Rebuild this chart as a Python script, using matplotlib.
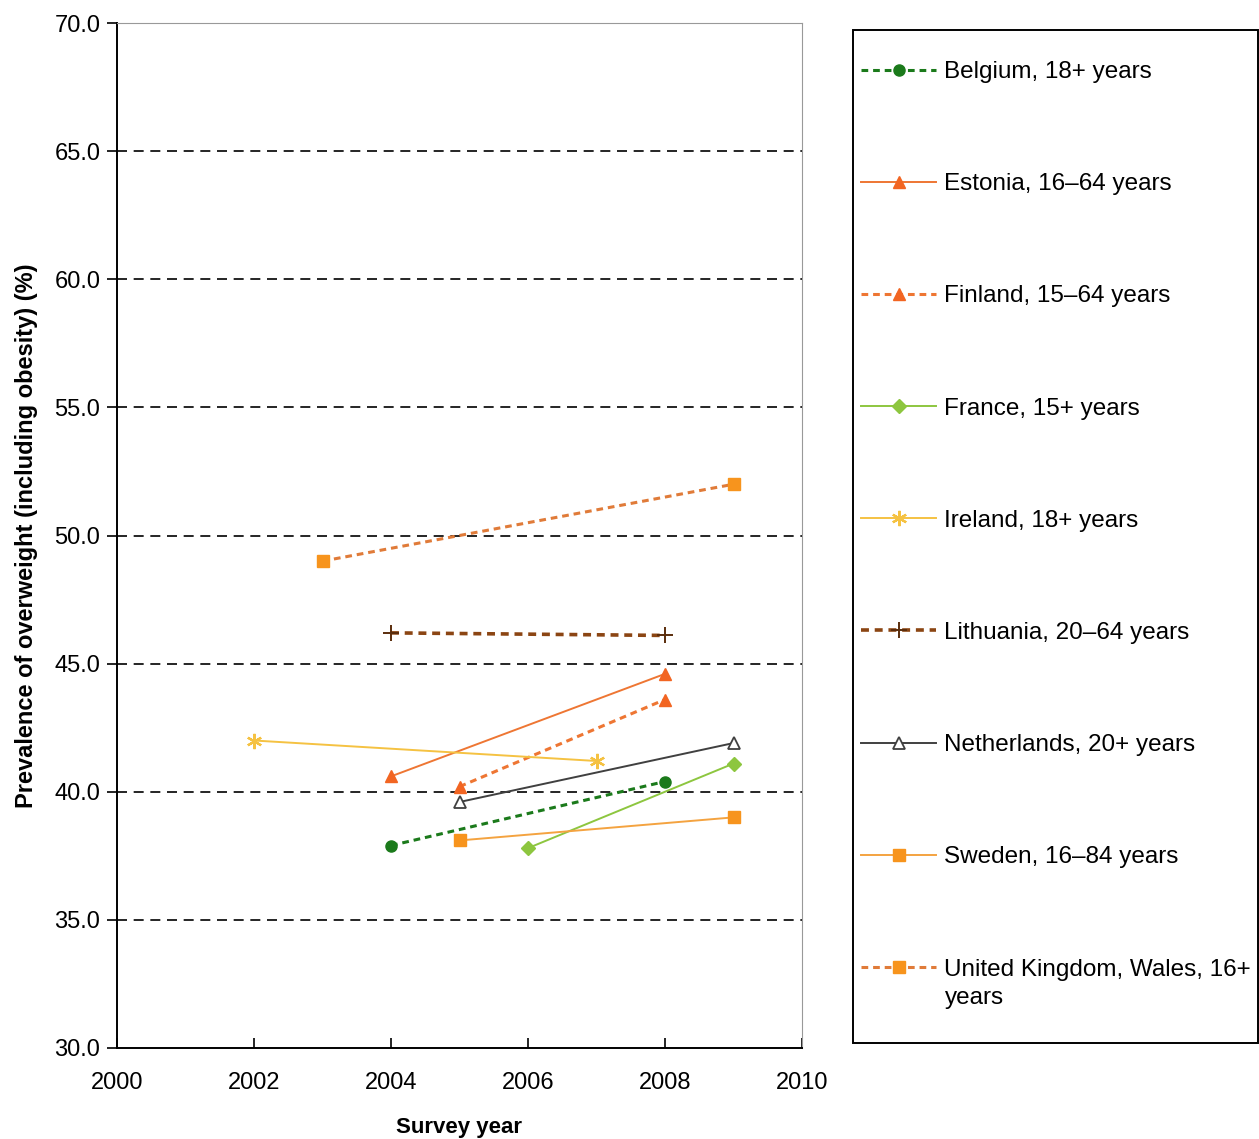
import matplotlib
matplotlib.use("Agg")
import matplotlib.pyplot as plt
from matplotlib.patches import Rectangle

plt.rcParams['font.family'] = ['Liberation Sans', 'DejaVu Sans']

# --- data ---
years_belgium = [2004, 2008]
vals_belgium = [37.9, 40.4]
years_estonia = [2004, 2008]
vals_estonia = [40.6, 44.6]
years_finland = [2005, 2008]
vals_finland = [40.2, 43.6]
years_france = [2006, 2009]
vals_france = [37.8, 41.1]
years_ireland = [2002, 2007]
vals_ireland = [42.0, 41.2]
years_lithuania = [2004, 2008]
vals_lithuania = [46.2, 46.1]
years_netherlands = [2005, 2009]
vals_netherlands = [39.6, 41.9]
years_sweden = [2005, 2009]
vals_sweden = [38.1, 39.0]
years_wales = [2003, 2009]
vals_wales = [49.0, 52.0]

labels = ['Belgium, 18+ years', 'Estonia, 16\u201364 years', 'Finland, 15\u201364 years',
          'France, 15+ years', 'Ireland, 18+ years', 'Lithuania, 20\u201364 years',
          'Netherlands, 20+ years', 'Sweden, 16\u201384 years',
          'United Kingdom, Wales, 16+']
label_wrap = 'years'   # second line of the last legend entry

fig = plt.figure(figsize=(12.59, 11.39), dpi=100)
ax = fig.add_axes([117/1259, 1-1048/1139, 685/1259, 1025/1139])

dash = (0, (2.2, 1.6))
h = []
h += ax.plot(years_belgium, vals_belgium, color='#1b7a1b', ls=dash, lw=2.2,
             marker='o', ms=8, mfc='#1b7a1b', mec='#1b7a1b')
h += ax.plot(years_estonia, vals_estonia, color='#ee7633', lw=1.4,
             marker='^', ms=9, mfc='#f26522', mec='#f26522')
h += ax.plot(years_finland, vals_finland, color='#ee7633', ls=dash, lw=2.2,
             marker='^', ms=9, mfc='#f26522', mec='#f26522')
h += ax.plot(years_france, vals_france, color='#8dc63f', lw=1.4,
             marker='D', ms=7, mfc='#8dc63f', mec='#8dc63f')
h += ax.plot(years_ireland, vals_ireland, color='#f5c242', lw=1.4,
             marker=(6, 2, 0), ms=11, mew=1.6, mec='#f5c242')
h += ax.plot(years_lithuania, vals_lithuania, color='#8b4513', ls=dash, lw=2.6,
             marker='+', ms=11, mew=1.4, mec='#5a2d0c')
h += ax.plot(years_netherlands, vals_netherlands, color='#404040', lw=1.4,
             marker='^', ms=8, mfc='white', mec='#404040', mew=1.3)
h += ax.plot(years_sweden, vals_sweden, color='#f4a340', lw=1.4,
             marker='s', ms=8, mfc='#f7941d', mec='#f7941d')
h += ax.plot(years_wales, vals_wales, color='#e07b39', ls=dash, lw=2.2,
             marker='s', ms=8, mfc='#f7941d', mec='#f7941d')

ax.set_xlim(2000, 2010)
ax.set_ylim(30, 70)
ax.set_xticks(range(2000, 2011, 2))
ax.set_yticks(range(30, 71, 5))
ax.set_yticklabels([f'{v:.1f}' for v in range(30, 71, 5)], fontsize=17)
ax.set_xticklabels([str(v) for v in range(2000, 2011, 2)], fontsize=17)
ax.tick_params(axis='y', direction='out', length=7, width=1.2, pad=5, colors='black')
ax.tick_params(axis='x', direction='in', length=7, width=1.2, pad=17)
for y in range(35, 70, 5):
    ax.axhline(y, color='black', lw=1.2, ls=(0, (6, 4)), zorder=0)

ax.spines['left'].set_linewidth(1.4)
ax.spines['bottom'].set_linewidth(1.4)
ax.spines['top'].set_color('#999999')
ax.spines['right'].set_color('#999999')

ax.set_xlabel('Survey year', fontsize=16, fontweight='bold', labelpad=17)
ax.set_ylabel('Prevalence of overweight (including obesity) (%)', fontsize=17,
              fontweight='bold')
ax.yaxis.set_label_coords(-0.116, 0.5)

# legend box on the right
fig.patches.append(Rectangle((853/1259, 1-1043/1139), 405/1259, 1013/1139,
                             transform=fig.transFigure, fill=False,
                             edgecolor='black', lw=1.4))
leg = fig.legend(h, labels, loc='upper left', bbox_to_anchor=(861/1259, 1-61/1139),
                 frameon=False, fontsize=17.5, handlelength=3.1, handletextpad=0.33,
                 labelspacing=3.71, borderpad=0, borderaxespad=0)
fig.text(945/1259, 1-998/1139, label_wrap, fontsize=17.5, va='center', ha='left')

fig.savefig('out.png', dpi=100)
